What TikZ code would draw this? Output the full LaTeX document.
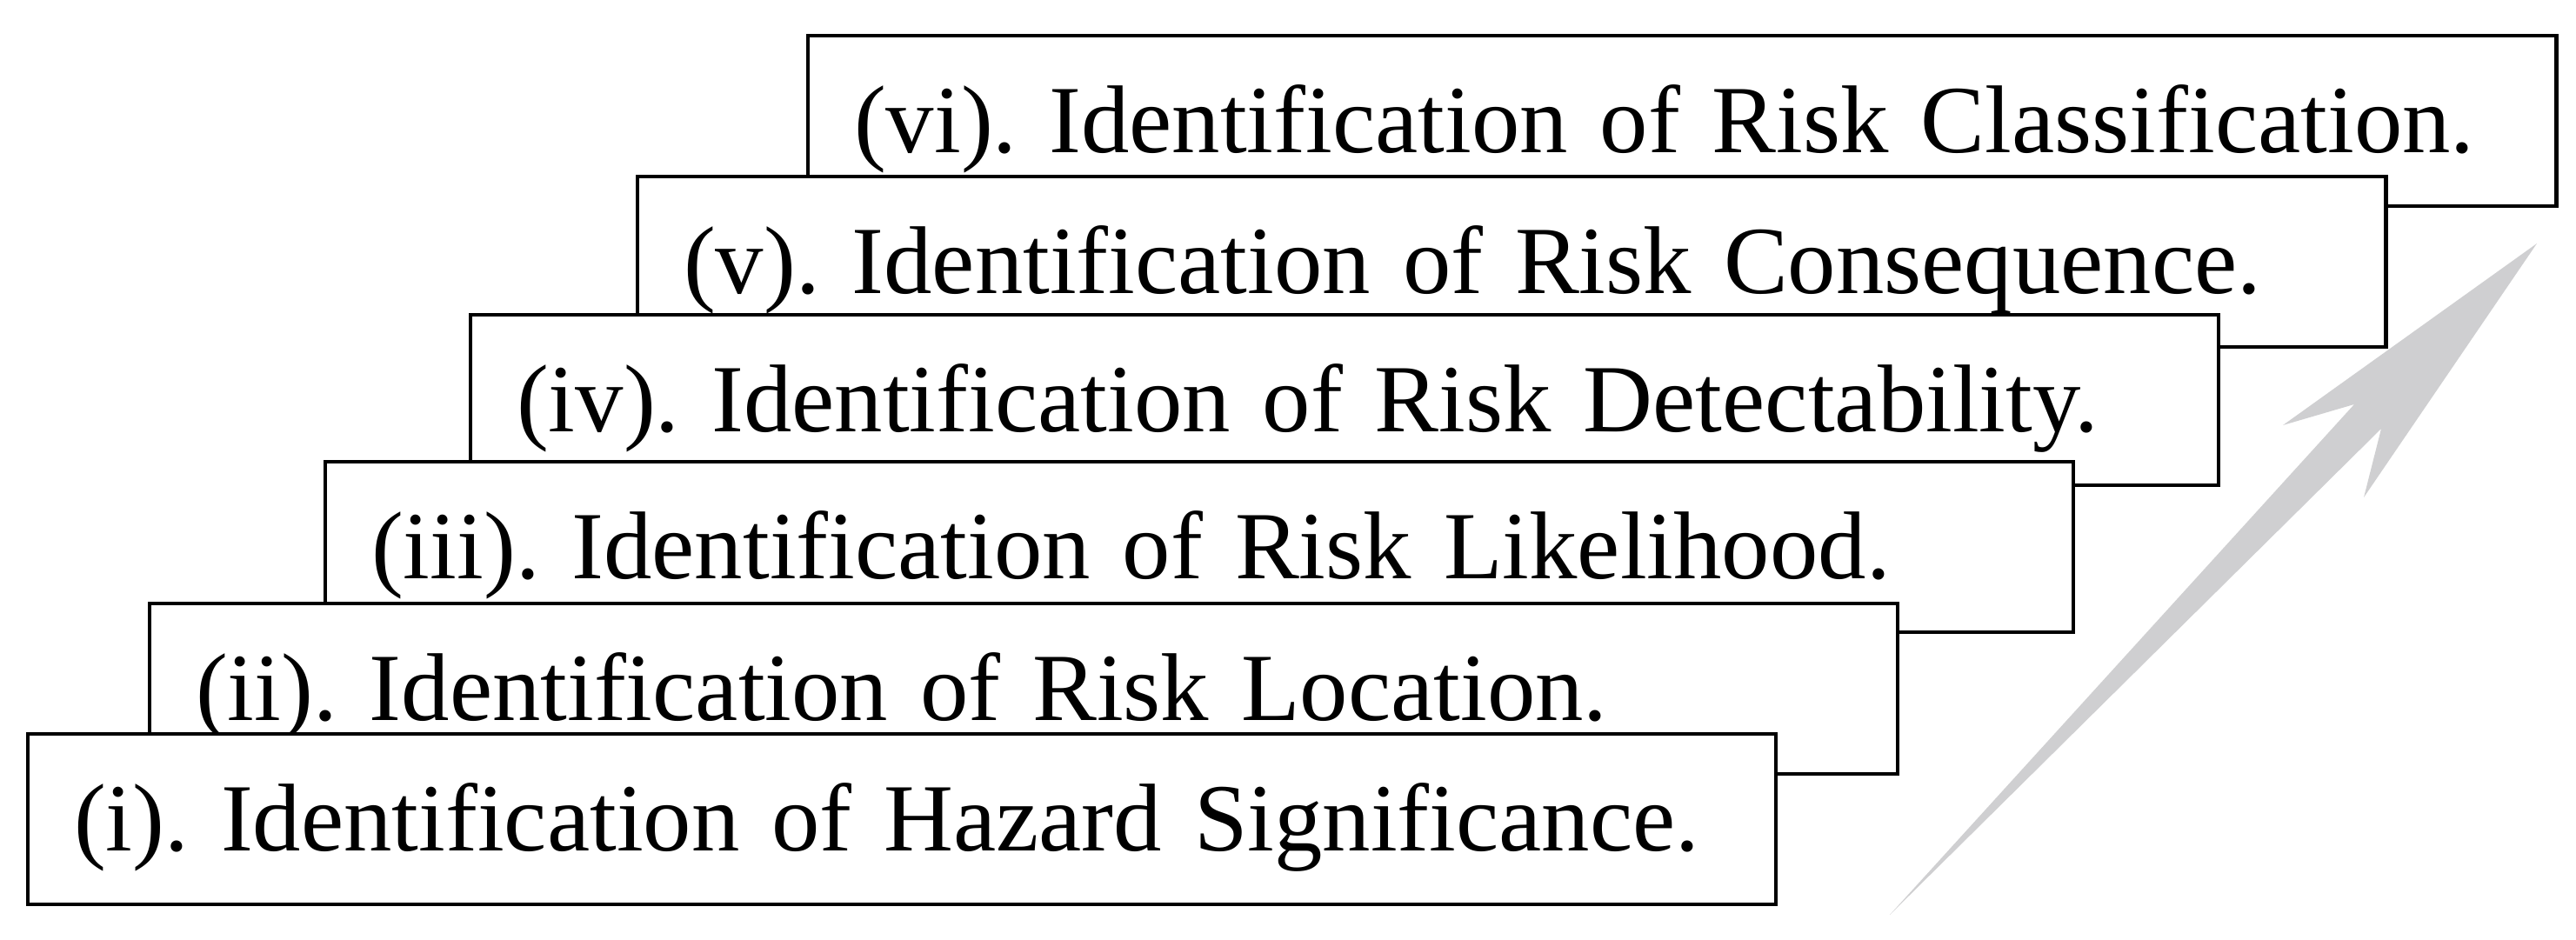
\documentclass[tikz,border=0pt]{standalone}
\usepackage{fontspec}
\setmainfont{Liberation Serif}
\definecolor{arrowgray}{RGB}{207,207,209}

\begin{document}
\begin{tikzpicture}[every node/.style={outer sep=0pt},
   stepbox/.style={draw=black, line width=1.4pt, fill=white, anchor=south west,
      minimum height=1.96cm, text width=19.04cm, inner xsep=0.53cm, inner ysep=0pt,
      text height=0.74cm, text depth=0pt, align=left,
      font=\fontsize{31.5}{38}\selectfont\frenchspacing}]
   \useasboundingbox (0,0) rectangle (29.62,10.81);
   % stairs, top step drawn first so lower ones overlap it
   \node[stepbox] (s6) at (9.29,8.44) {(vi). Identification of Risk Classification.};
   \node[stepbox] (s5) at (7.33,6.82) {(v). Identification of Risk Consequence.};
   \node[stepbox] (s4) at (5.41,5.23) {(iv). Identification of Risk Detectability.};
   \node[stepbox] (s3) at (3.74,3.54) {(iii). Identification of Risk Likelihood.};
   \node[stepbox] (s2) at (1.72,1.91) {(ii). Identification of Risk Location.};
   \node[stepbox] (s1) at (0.32,0.41) {(i). Identification of Hazard Significance.};

   % grey arrow
   \coordinate (tail) at (21.73,0.29);
   \coordinate (tip) at (29.17,8.01);
   \fill[arrowgray] (tail) -- (27.38,5.88) -- (27.18,5.09) -- (tip)
      -- (26.25,5.92) -- (27.07,6.16) -- cycle;
\end{tikzpicture}
\end{document}
